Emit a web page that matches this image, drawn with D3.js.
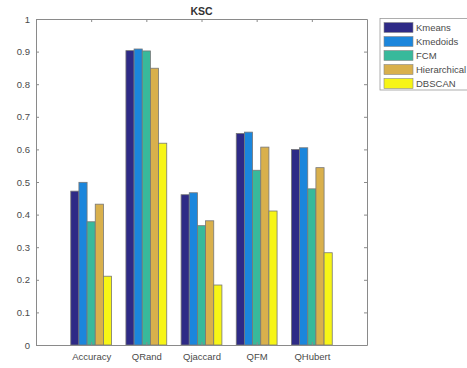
<!DOCTYPE html>
<html>
<head>
<meta charset="utf-8">
<script src="https://cdn.jsdelivr.net/npm/d3@7"></script>
<style>
  html, body { margin: 0; padding: 0; background: #fff; }
  svg { display: block; font-family: "Liberation Sans", Arial, sans-serif; }
</style>
</head>
<body>
<svg id="chart" width="467" height="368"></svg>
<script>
// Clustering quality measures on the KSC dataset
const categories = ["Accuracy", "QRand", "Qjaccard", "QFM", "QHubert"];
const methods = ["Kmeans", "Kmedoids", "FCM", "Hierarchical", "DBSCAN"];
const kmeans       = [0.472, 0.903, 0.461, 0.649, 0.600];
const kmedoids     = [0.499, 0.908, 0.467, 0.653, 0.605];
const fcm          = [0.378, 0.902, 0.366, 0.536, 0.479];
const hierarchical = [0.432, 0.849, 0.381, 0.607, 0.544];
const dbscan       = [0.211, 0.619, 0.184, 0.411, 0.283];
const yTicks = [0, 0.1, 0.2, 0.3, 0.4, 0.5, 0.6, 0.7, 0.8, 0.9, 1];
const colors = ["#2e2a86", "#1b86dc", "#38b99b", "#d9b04c", "#f7f516"];

const series = [kmeans, kmedoids, fcm, hierarchical, dbscan];

const svg = d3.select("#chart");
const x0 = 36, x1 = 367, y0 = 345, y1 = 19;

// numeric x axis like a grouped bar plot: groups sit at 1..5 on [0, 6]
const x = d3.scaleLinear().domain([0, 6]).range([x0, x1]);
const y = d3.scaleLinear().domain([0, 1]).range([y0, y1]);

const groupWidth = 0.74;
const barW = groupWidth / methods.length;

const axisColor = "#8a8a8a";
const textColor = "#4a4a4a";
const fontFamily = "'Liberation Sans', Arial, sans-serif";

// bars
series.forEach((vals, si) => {
  svg.append("g")
    .selectAll("rect")
    .data(vals)
    .join("rect")
    .attr("x", (d, i) => x(i + 1 - groupWidth / 2 + si * barW))
    .attr("width", x(barW) - x(0))
    .attr("y", d => y(d))
    .attr("height", d => y(0) - y(d))
    .attr("fill", colors[si])
    .attr("stroke", "#777")
    .attr("stroke-width", 0.8);
});

// axes box
const tickLen = 3;
const gx = svg.append("g").attr("transform", `translate(0,${y0})`)
  .call(d3.axisBottom(x).tickValues([1, 2, 3, 4, 5])
    .tickFormat(d => categories[d - 1]).tickSizeInner(-tickLen).tickSizeOuter(0).tickPadding(8));
const gxt = svg.append("g").attr("transform", `translate(0,${y1})`)
  .call(d3.axisTop(x).tickValues([1, 2, 3, 4, 5]).tickFormat("")
    .tickSizeInner(-tickLen).tickSizeOuter(0));
const gy = svg.append("g").attr("transform", `translate(${x0},0)`)
  .call(d3.axisLeft(y).tickValues(yTicks).tickFormat(d => d === 0 || d === 1 ? d3.format("d")(d) : d3.format(".1f")(d))
    .tickSizeInner(-tickLen).tickSizeOuter(0).tickPadding(6));
const gyr = svg.append("g").attr("transform", `translate(${x1},0)`)
  .call(d3.axisRight(y).tickValues(yTicks).tickFormat("")
    .tickSizeInner(-tickLen).tickSizeOuter(0));

[gx, gxt, gy, gyr].forEach(g => {
  g.select(".domain").attr("stroke", axisColor).attr("stroke-width", 1);
  g.selectAll(".tick line").attr("stroke", axisColor);
  g.selectAll("text").attr("fill", textColor).attr("font-size", 9.5)
    .attr("font-family", fontFamily);
});

// title
svg.append("text")
  .attr("x", (x0 + x1) / 2)
  .attr("y", 15)
  .attr("text-anchor", "middle")
  .attr("font-size", 10.5)
  .attr("font-weight", "bold")
  .attr("fill", "#333")
  .text("KSC");

// legend
const lg = svg.append("g").attr("transform", "translate(380,18.5)");
lg.append("rect")
  .attr("width", 100).attr("height", 71.5)
  .attr("fill", "#fff").attr("stroke", "#999").attr("stroke-width", 0.8);
methods.forEach((m, i) => {
  const row = lg.append("g").attr("transform", `translate(4,${4 + i * 14})`);
  row.append("rect")
    .attr("width", 29).attr("height", 10)
    .attr("fill", colors[i]).attr("stroke", "#888").attr("stroke-width", 0.6);
  row.append("text")
    .attr("x", 32).attr("y", 8.5)
    .attr("font-size", 9.5).attr("fill", textColor)
    .attr("font-family", fontFamily)
    .text(m);
});
</script>
</body>
</html>
